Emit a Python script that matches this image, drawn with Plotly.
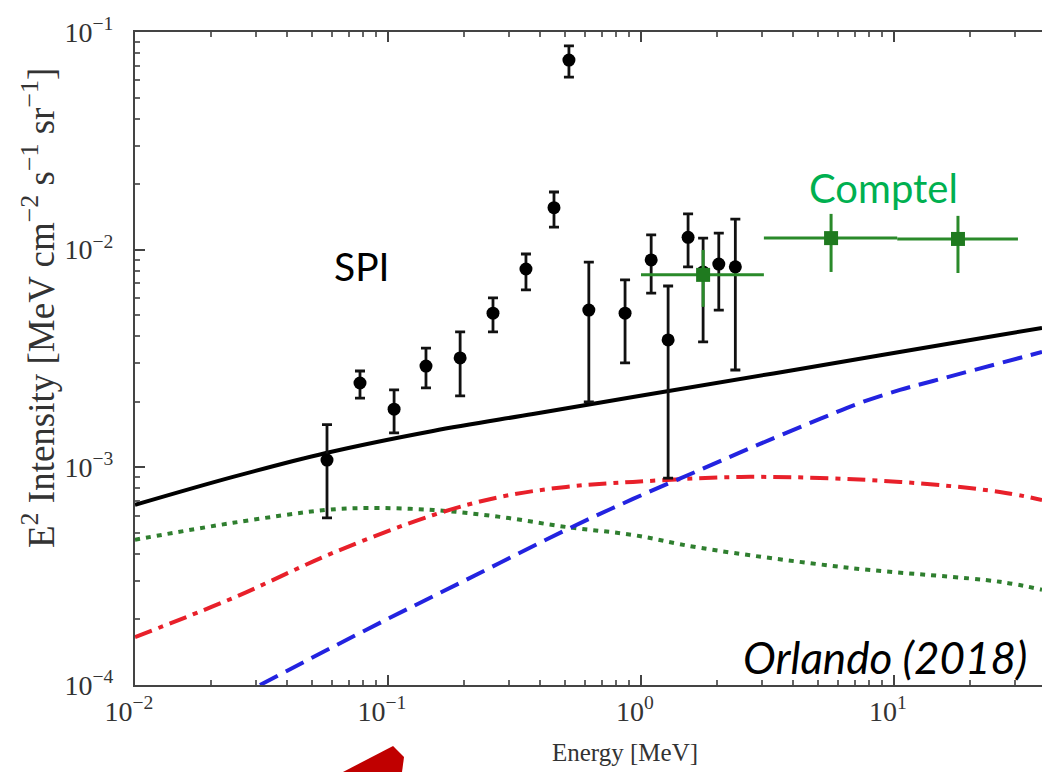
import numpy as np
import plotly.graph_objects as go

# ---------------- data ----------------
# SPI data points (energy MeV, E^2 intensity, upper and lower error-bar ends)
spi_E = [0.0574, 0.0775, 0.1057, 0.1413, 0.1928, 0.260, 0.351, 0.453, 0.519,
         0.622, 0.865, 1.097, 1.28, 1.535, 1.76, 2.03, 2.36]
spi_I = [1.08e-3, 2.44e-3, 1.85e-3, 2.92e-3, 3.18e-3, 5.11e-3, 8.15e-3, 1.56e-2, 7.43e-2,
         5.28e-3, 5.11e-3, 8.97e-3, 3.85e-3, 1.14e-2, 7.9e-3, 8.59e-3, 8.34e-3]
spi_hi = [1.57e-3, 2.77e-3, 2.27e-3, 3.53e-3, 4.19e-3, 6.0e-3, 9.55e-3, 1.84e-2, 8.63e-2,
          8.77e-3, 7.26e-3, 1.17e-2, 6.81e-3, 1.46e-2, 1.13e-2, 1.19e-2, 1.38e-2]
spi_lo = [5.86e-4, 2.08e-3, 1.44e-3, 2.32e-3, 2.13e-3, 4.19e-3, 6.53e-3, 1.27e-2, 6.21e-2,
          2.0e-3, 3.02e-3, 6.32e-3, 8.93e-4, 8.34e-3, 3.77e-3, 5.28e-3, 2.80e-3]

# COMPTEL data points
comptel_E = [1.76, 5.64, 17.9]
comptel_Elo = [1.0, 3.06, 10.3]
comptel_Ehi = [3.06, 10.3, 30.9]
comptel_I = [7.66e-3, 1.13e-2, 1.12e-2]
comptel_hi = [9.97e-3, 1.46e-2, 1.43e-2]
comptel_lo = [5.46e-3, 7.9e-3, 7.81e-3]

# Model curves
total_E = [0.01, 0.0244, 0.05686, 0.1506, 0.3742, 0.9298, 4.252, 26.24, 38.46]
total_I = [6.72e-4, 9.035e-4, 1.164e-3, 1.470e-3, 1.759e-3, 2.106e-3, 2.831e-3,
           4.056e-3, 4.368e-3]

green_E = [0.01, 0.0244, 0.0569, 0.0818, 0.151, 0.277, 0.506, 0.929, 1.71, 6.70, 26.2, 38.46]
green_I = [4.65e-4, 5.56e-4, 6.37e-4, 6.50e-4, 6.37e-4, 5.92e-4, 5.32e-4, 4.89e-4,
           4.27e-4, 3.45e-4, 2.98e-4, 2.74e-4]

red_E = [0.01, 0.0244, 0.0607, 0.151, 0.277, 0.506, 0.929, 2.70, 10.6, 26.2, 38.46]
red_I = [1.66e-4, 2.51e-4, 4.05e-4, 6.04e-4, 7.31e-4, 8.13e-4, 8.57e-4, 9.04e-4,
         8.57e-4, 7.71e-4, 7.08e-4]

blue_E = [0.03119, 0.08185, 0.2033, 0.5052, 0.9298, 1.711, 2.954, 5.099, 7.338,
          10.56, 14.26, 38.46]
blue_I = [1.0e-4, 1.791e-4, 3.039e-4, 5.159e-4, 7.158e-4, 9.730e-4, 1.281e-3,
          1.669e-3, 1.976e-3, 2.267e-3, 2.493e-3, 3.389e-3]

x_ticks = [0.01, 0.1, 1, 10]
x_ticktext = ["10<sup>\u22122</sup>", "10<sup>\u22121</sup>", "10<sup>0</sup>", "10<sup>1</sup>"]
y_ticks = [1e-4, 1e-3, 1e-2, 1e-1]
y_ticktext = ["10<sup>\u22124</sup>", "10<sup>\u22123</sup>", "10<sup>\u22122</sup>", "10<sup>\u22121</sup>"]

# ---------------- figure ----------------
W, H = 1042, 772
L, R, T, B = 135, 0, 32, 87
pw, ph = W - L - R, H - T - B


def px(sx):
    # window x pixel -> paper coordinate
    return (sx - L) / pw


def py(sy):
    # window y pixel -> paper coordinate
    return (H - B - sy) / ph


fig = go.Figure()

fig.add_trace(go.Scatter(x=green_E, y=green_I, mode="lines",
                         line=dict(color="#2f7f2f", width=4, dash="5px,6px", shape="spline")))
fig.add_trace(go.Scatter(x=red_E, y=red_I, mode="lines",
                         line=dict(color="#e8202a", width=4, dash="18px,7px,5px,7px", shape="spline")))
fig.add_trace(go.Scatter(x=blue_E, y=blue_I, mode="lines",
                         line=dict(color="#2323e0", width=4, dash="20px,9px", shape="spline")))
fig.add_trace(go.Scatter(x=total_E, y=total_I, mode="lines",
                         line=dict(color="black", width=4, shape="spline")))

spi_up = [h - v for h, v in zip(spi_hi, spi_I)]
spi_dn = [v - l for l, v in zip(spi_lo, spi_I)]
fig.add_trace(go.Scatter(
    x=spi_E, y=spi_I, mode="markers",
    marker=dict(symbol="circle", size=13, color="black"),
    error_y=dict(type="data", symmetric=False, array=spi_up, arrayminus=spi_dn,
                 color="#111111", thickness=2.8, width=5)))

c_up = [h - v for h, v in zip(comptel_hi, comptel_I)]
c_dn = [v - l for l, v in zip(comptel_lo, comptel_I)]
c_right = [h - e for h, e in zip(comptel_Ehi, comptel_E)]
c_left = [e - l for l, e in zip(comptel_Elo, comptel_E)]
fig.add_trace(go.Scatter(
    x=comptel_E, y=comptel_I, mode="markers",
    marker=dict(symbol="square", size=14, color="#1f7a1f"),
    error_y=dict(type="data", symmetric=False, array=c_up, arrayminus=c_dn,
                 color="#2a8a2a", thickness=3, width=0),
    error_x=dict(type="data", symmetric=False, array=c_right, arrayminus=c_left,
                 color="#2a8a2a", thickness=3, width=0)))

minor_x = [m * 10.0 ** k for k in range(-2, 2) for m in range(2, 10)]
minor_y = [m * 10.0 ** k for k in range(-4, -1) for m in range(2, 10)]

tickfont = dict(family="Liberation Serif", size=28, color="#333333")
fig.update_xaxes(type="log", range=[-2, np.log10(38.46)],
                 tickvals=x_ticks, ticktext=x_ticktext, tickfont=tickfont,
                 ticks="inside", ticklen=10, tickwidth=1.5, tickcolor="#444",
                 minor=dict(ticks="inside", ticklen=5, tickvals=minor_x, tickcolor="#666", showgrid=False),
                 showline=True, linecolor="#444", linewidth=2, mirror="ticks",
                 showgrid=False, zeroline=False, ticklabelshift=-6)
fig.update_yaxes(type="log", range=[-4, -1],
                 tickvals=y_ticks, ticktext=y_ticktext, tickfont=tickfont,
                 ticks="inside", ticklen=10, tickwidth=1.5, tickcolor="#444",
                 minor=dict(ticks="inside", ticklen=5, tickvals=minor_y, tickcolor="#666", showgrid=False),
                 showline=True, linecolor="#444", linewidth=2,
                 showgrid=False, zeroline=False, ticklabelstandoff=14)

ann = [
    dict(text="E<sup>2</sup> Intensity [MeV cm<sup>\u22122</sup> s<sup>\u22121</sup> sr<sup>\u22121</sup>]",
         x=px(38), y=py(308), textangle=-90,
         font=dict(family="Liberation Serif", size=37, color="#333333")),
    dict(text="Energy [MeV]", x=px(625), y=py(752),
         font=dict(family="Liberation Serif", size=25, color="#333333")),
    dict(text="SPI", x=px(362), y=py(266),
         font=dict(family="Lato", size=39, color="black")),
    dict(text="Comptel", x=px(883), y=py(188),
         font=dict(family="Lato", size=40, color="#00B050")),
    dict(text="<i>Orlando (2018)</i>", x=px(885), y=py(657),
         font=dict(family="Lato", size=44, color="black")),
]
for a in ann:
    a.update(xref="paper", yref="paper", xanchor="center", yanchor="middle", showarrow=False)

arrow_pts = [(343, 772), (393, 746), (404, 757), (402, 772)]
path = "M " + " L ".join(f"{px(a):.4f},{py(b):.4f}" for a, b in arrow_pts) + " Z"

fig.update_layout(
    width=W, height=H,
    margin=dict(l=L, r=R, t=T, b=B, pad=0),
    paper_bgcolor="white", plot_bgcolor="white",
    showlegend=False,
    annotations=ann,
    shapes=[dict(type="path", path=path, xref="paper", yref="paper",
                 fillcolor="#C00000", line=dict(width=0))],
)

fig.write_html("out.html",
               config={"displayModeBar": False},
               post_script="document.body.style.margin='0px';document.body.style.overflow='hidden';")
